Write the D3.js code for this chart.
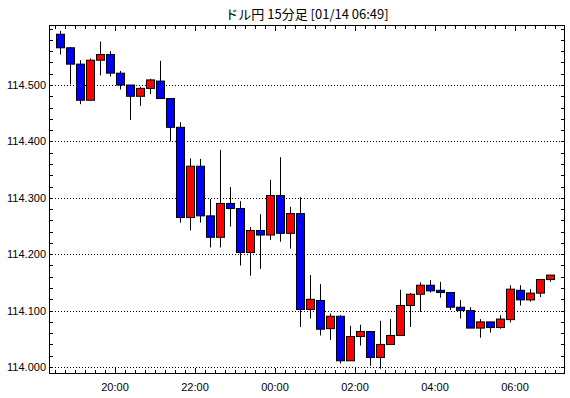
<!DOCTYPE html>
<html><head><meta charset="utf-8">
<script src="https://cdn.jsdelivr.net/npm/d3@7"></script>
<style>html,body{margin:0;padding:0;background:#fff;}svg{display:block;}</style>
</head><body>
<svg id="c" width="570" height="398"></svg>
<script>
const title = "ドル円 15分足 [01/14 06:49]";
const times = ["18:30","18:45","19:00","19:15","19:30","19:45","20:00","20:15","20:30","20:45",
"21:00","21:15","21:30","21:45","22:00","22:15","22:30","22:45","23:00","23:15",
"23:30","23:45","00:00","00:15","00:30","00:45","01:00","01:15","01:30","01:45",
"02:00","02:15","02:30","02:45","03:00","03:15","03:30","03:45","04:00","04:15",
"04:30","04:45","05:00","05:15","05:30","05:45","06:00","06:15","06:30","06:45"];
const opens  = [114.590,114.566,114.537,114.473,114.544,114.554,114.521,114.500,114.480,114.494,
114.507,114.476,114.425,114.265,114.356,114.268,114.230,114.290,114.281,114.203,
114.242,114.234,114.304,114.237,114.272,114.102,114.118,114.068,114.090,114.011,
114.054,114.063,114.017,114.040,114.056,114.109,114.129,114.145,114.136,114.132,
114.106,114.100,114.069,114.080,114.070,114.084,114.136,114.119,114.131,114.155];
const highs  = [114.596,114.567,114.544,114.547,114.577,114.560,114.525,114.500,114.497,114.511,
114.543,114.476,114.434,114.370,114.369,114.298,114.385,114.319,114.294,114.248,
114.271,114.332,114.372,114.284,114.301,114.163,114.147,114.095,114.092,114.073,
114.075,114.063,114.082,114.085,114.137,114.131,114.150,114.154,114.151,114.132,
114.119,114.106,114.085,114.080,114.092,114.145,114.145,114.138,114.155,114.163];
const lows   = [114.554,114.501,114.466,114.473,114.517,114.515,114.492,114.438,114.463,114.484,
114.476,114.400,114.256,114.242,114.256,114.212,114.212,114.249,114.180,114.162,
114.174,114.225,114.222,114.210,114.071,114.086,114.056,114.048,114.006,114.011,
114.038,114.002,113.997,114.040,114.056,114.071,114.098,114.132,114.123,114.101,
114.086,114.069,114.052,114.061,114.068,114.079,114.109,114.116,114.124,114.151];
const closes = [114.566,114.537,114.473,114.544,114.554,114.521,114.500,114.480,114.494,114.509,
114.476,114.425,114.265,114.356,114.268,114.230,114.290,114.281,114.203,114.242,
114.234,114.304,114.237,114.272,114.102,114.120,114.067,114.090,114.011,114.054,
114.063,114.017,114.040,114.056,114.109,114.129,114.145,114.135,114.132,114.106,
114.100,114.069,114.080,114.070,114.085,114.138,114.119,114.131,114.155,114.163];
const xTickLabels = ["20:00","22:00","00:00","02:00","04:00","06:00"];
const yTickLabels = ["114.000","114.100","114.200","114.300","114.400","114.500"];

function toDate(s){const [h,m]=s.split(":").map(Number);return new Date(2022,0,h>=12?13:14,h,m);}

const L=49, R=565, T=25, B=374;
const svg = d3.select("#c");
const x = d3.scaleTime().domain([new Date(2022,0,13,18,21), new Date(2022,0,14,7,15)]).range([L,R]);
const y = d3.scaleLinear().domain([113.9876,114.6064]).range([B,T]);
const font = "'Liberation Sans', Arial, sans-serif";

// title
svg.append("text").attr("x",(L+R)/2).attr("y",19).attr("text-anchor","middle")
  .attr("font-family","'Noto Sans CJK JP', sans-serif").attr("font-size",13).attr("fill","#000").text(title);

// gridlines
const yMajor = yTickLabels.map(Number);
svg.append("g").selectAll("line").data(yMajor).join("line")
  .attr("x1",L).attr("x2",R).attr("y1",d=>Math.round(y(d))+0.5).attr("y2",d=>Math.round(y(d))+0.5)
  .attr("stroke","#000").attr("stroke-width",1).attr("stroke-dasharray","1,2");

// x ticks
const minorX = d3.timeMinute.every(15).range(x.domain()[0], x.domain()[1]);
const majorSet = new Set(xTickLabels.map(s=>+toDate(s)));
const tickG = svg.append("g");
minorX.forEach(t=>{
  const px = Math.round(x(t))+0.5;
  const len = majorSet.has(+t)?6:4;
  tickG.append("line").attr("x1",px).attr("x2",px).attr("y1",B).attr("y2",B-len).attr("stroke","#000");
  tickG.append("line").attr("x1",px).attr("x2",px).attr("y1",T).attr("y2",T+len).attr("stroke","#000");
});
// y ticks every 0.02
const minorY = d3.range(0,31).map(i=>114+i*0.02).filter(v=>v<=114.6064);
minorY.forEach(v=>{
  const py = Math.round(y(v))+0.5;
  tickG.append("line").attr("x1",L).attr("x2",L+4).attr("y1",py).attr("y2",py).attr("stroke","#000");
  tickG.append("line").attr("x1",R).attr("x2",R-4).attr("y1",py).attr("y2",py).attr("stroke","#000");
});

// labels
svg.append("g").selectAll("text").data(xTickLabels).join("text")
  .attr("x",d=>x(toDate(d))).attr("y",391).attr("text-anchor","middle")
  .attr("font-family",font).attr("font-size",11).attr("fill","#000").text(d=>d);
svg.append("g").selectAll("text").data(yTickLabels).join("text")
  .attr("x",46).attr("y",d=>y(+d)+4).attr("text-anchor","end")
  .attr("font-family",font).attr("font-size",11).attr("fill","#000").text(d=>d);

// candles
const data = times.map((t,i)=>({t:new Date(+toDate(t)+7.5*60000),o:opens[i],h:highs[i],l:lows[i],c:closes[i]}));
const cg = svg.append("g");
cg.selectAll("line").data(data).join("line")
  .attr("x1",d=>Math.round(x(d.t))+0.5).attr("x2",d=>Math.round(x(d.t))+0.5)
  .attr("y1",d=>y(d.h)).attr("y2",d=>y(d.l)).attr("stroke","#000").attr("stroke-width",1);
cg.selectAll("rect").data(data).join("rect")
  .attr("x",d=>Math.round(x(d.t))-3.5).attr("width",8)
  .attr("y",d=>y(Math.max(d.o,d.c))).attr("height",d=>Math.max(1,Math.abs(y(d.o)-y(d.c))))
  .attr("fill",d=>d.c>=d.o?"#ff0000":"#0000ff").attr("stroke","#000").attr("stroke-width",1);

// frame
svg.append("rect").attr("x",L+0.5).attr("y",T+0.5).attr("width",R-L-1).attr("height",B-T-1)
  .attr("fill","none").attr("stroke","#000").attr("stroke-width",1);
</script>
</body></html>
